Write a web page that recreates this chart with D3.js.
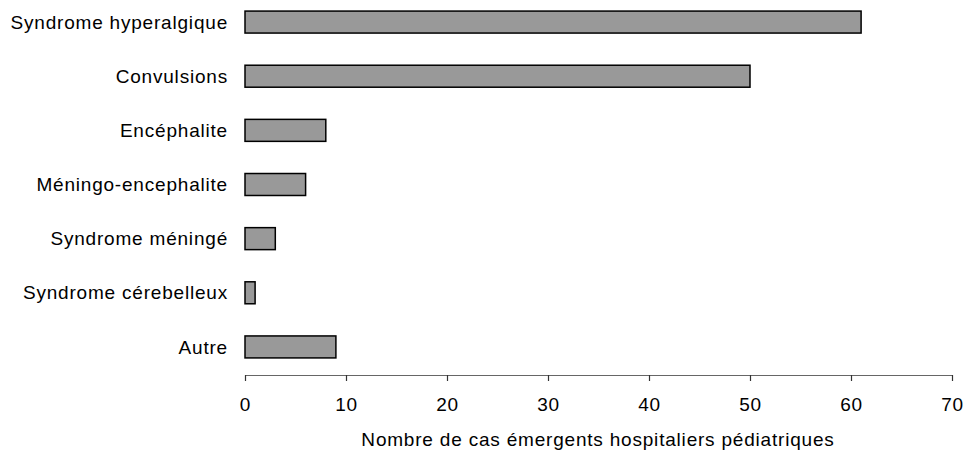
<!DOCTYPE html>
<html>
<head>
<meta charset="utf-8">
<script src="https://cdn.jsdelivr.net/npm/d3@7"></script>
<style>
  body { margin: 0; background: #fff; }
  text { font-family: "Liberation Sans", Arial, sans-serif; }
</style>
</head>
<body>
<svg width="965" height="452"></svg>
<script>
// data
var categories = ["Syndrome hyperalgique", "Convulsions", "Encéphalite", "Méningo-encephalite",
                  "Syndrome méningé", "Syndrome cérebelleux", "Autre"];
var values = [61, 50, 8, 6, 3, 1, 9];
var xTicks = [0, 10, 20, 30, 40, 50, 60, 70];
var xTitle = "Nombre de cas émergents hospitaliers pédiatriques";

var svg = d3.select("svg"),
    left = 245,
    right = 952,
    axisY = 375,
    fontSize = 19,
    spacing = "0.8px";

var xScale = d3.scaleLinear().domain([0, 70]).range([left, right]);
var yScale = d3.scaleBand().domain(categories).range([-5, axisY - 1])
    .paddingInner(0.594).paddingOuter(0.297);

// bars
svg.selectAll(".bar")
   .data(values)
   .enter().append("rect")
   .attr("class", "bar")
   .attr("x", xScale(0))
   .attr("y", function(_, i) { return yScale(categories[i]); })
   .attr("width", function(d) { return xScale(d) - xScale(0); })
   .attr("height", yScale.bandwidth())
   .attr("fill", "#999999")
   .attr("stroke", "#000")
   .attr("stroke-width", 1.5);

// category labels
svg.selectAll(".cat")
   .data(categories)
   .enter().append("text")
   .attr("class", "cat")
   .attr("x", 228)
   .attr("y", function(d) { return yScale(d) + yScale.bandwidth() / 2; })
   .attr("dy", "0.35em")
   .attr("text-anchor", "end")
   .attr("font-size", fontSize)
   .attr("letter-spacing", spacing)
   .attr("fill", "#000")
   .text(function(d) { return d; });

// x axis
var xAxis = svg.append("g")
   .attr("transform", "translate(0," + axisY + ")")
   .call(d3.axisBottom(xScale).tickValues(xTicks).tickSize(6).tickSizeOuter(0).tickPadding(17));
xAxis.select(".domain").attr("stroke", "#666").attr("stroke-width", 1.2);
xAxis.selectAll(".tick line").attr("stroke", "#333").attr("stroke-width", 1.2);
xAxis.selectAll(".tick text").attr("font-size", fontSize).attr("fill", "#000")
   .attr("letter-spacing", spacing)
   .attr("font-family", "'Liberation Sans', Arial, sans-serif");

svg.append("text")
   .attr("x", 598)
   .attr("y", 446)
   .attr("text-anchor", "middle")
   .attr("font-size", fontSize)
   .attr("letter-spacing", spacing)
   .attr("fill", "#000")
   .text(xTitle);
</script>
</body>
</html>
